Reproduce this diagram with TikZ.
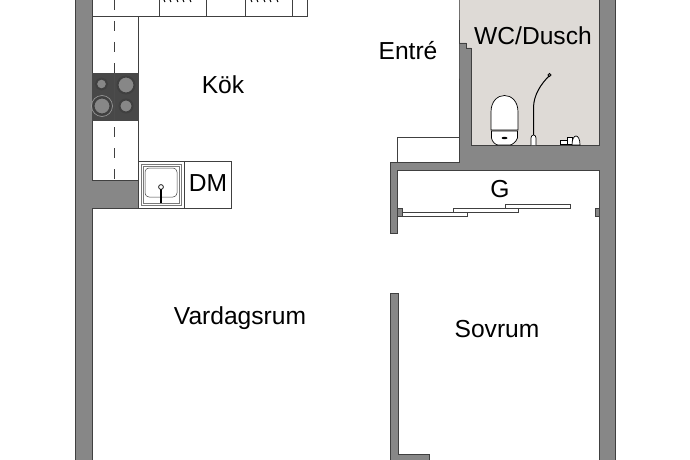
\documentclass[tikz,border=0pt]{standalone}
\usepackage{fontspec}
\setmainfont{Liberation Sans}
\definecolor{wallgray}{HTML}{878787}
\definecolor{wallline}{HTML}{404040}
\definecolor{stovegray}{HTML}{484848}
\definecolor{wetfloor}{HTML}{DEDAD6}
\tikzset{wall/.style={fill=wallgray,draw=wallline,line width=.9pt},
 unit/.style={draw=wallline,line width=.8pt,fill=white},
 door/.style={draw=wallline,line width=.7pt,fill=white},
 burner/.style={fill=wallgray,draw=black!75,line width=2pt},
 fixture/.style={draw=black,line width=.7pt,fill=white},
 hobdash/.style={draw=wallline,dash pattern=on 10pt off 11pt,line width=.8pt},
 roomlabel/.style={font=\fontsize{24.6}{24.6}\selectfont,inner sep=0pt},
 }
\begin{document}
\begin{tikzpicture}[x=1pt,y=-1pt]
        \useasboundingbox (0,0) rectangle (690,460);
        \fill[wetfloor] (459,0) rectangle (599,145);
        \draw[wall] (75,-3) -- (92,-3) -- (92,180) -- (138,180) -- (138,208) -- (92,208)
            -- (92,463) -- (75,463) -- cycle;
        \draw[wall] (459,-3) -- (459,43) -- (466,43) -- (466,48) -- (471,48) -- (471,145)
            -- (599,145) -- (599,-3) -- (615,-3) -- (615,463) -- (599,463) -- (599,170)
            -- (397,170) -- (397,233) -- (390,233) -- (390,162) -- (459,162) -- cycle;
        \draw[wall] (390,293) -- (398,293) -- (398,454) -- (429,454) -- (429,463) -- (390,463) -- cycle;
        \draw[wall] (397,208) rectangle (402,216);
        \draw[wall] (595.5,208) rectangle (599,216);
        \draw[unit] (92,-3) rectangle (159.5,16);
        \draw[unit] (159.5,-3) rectangle (206,16);
        \draw[unit] (206,-3) rectangle (245.5,16);
        \draw[unit] (245.5,-3) rectangle (292,16);
        \draw[unit] (292,-3) rectangle (307,16);
        \foreach \x in {164,170,177,183,190,251,257,264,270,277}
            \draw[black,line width=1pt] (\x,0) -- (\x+1,2);
        \draw[unit] (92,16) rectangle (138,180);
        \draw[hobdash] (114.7,0) -- (114.7,73);
        \draw[hobdash] (114.7,127) -- (114.7,180);
        \draw[fill=stovegray,draw=stovegray] (92,73) rectangle (138,120);
        \draw[black!70,line width=.5pt] (114.7,73) -- (114.7,120);
        \draw[burner] (101.5,84) circle (5.5);
        \draw[burner] (126,85) circle (8.5);
        \draw[burner] (102,106) circle (8.5);
        \draw[gray!70,line width=.5pt] (102,106) circle (10.5);
        \draw[burner] (126,106) circle (6.5);
        \draw[unit] (138,161) rectangle (184,208);
        \draw[unit] (184,161) rectangle (231,208);
        \draw[draw=wallline!70,line width=.8pt,fill=white] (141,164) rectangle (181,205);
        \draw[draw=wallline!70,line width=.8pt] (143,166) rectangle (179,203);
        \draw[draw=wallline,line width=.5pt,rounded corners=4pt] (145,168) rectangle (177,197);
        \draw[black,line width=1.2pt] (161,203) -- (161,189);
        \draw[fixture] (161,187) circle (2.4);
        \draw[draw=wallline,line width=.8pt] (397,162) -- (397,137) -- (459,137);
        \draw[door] (402,212) rectangle (467,216);
        \draw[door] (453,208) rectangle (518,212);
        \draw[door] (505,204) rectangle (570,208);
        \draw[fixture] (491,130) -- (491,112) .. controls (491,90) and (518,90) .. (518,112)
            -- (518,130) -- cycle;
        \draw[fixture] (491.5,131) -- (517.5,131) -- (517.5,138) .. controls (516,142) and (512,145) .. (510,145)
            -- (498,145) .. controls (496,145) and (492,142) .. (491.5,138) -- cycle;
        \fill[black] (504.5,138) ellipse (3 and 1.2);
        \draw[black,line width=1pt] (533.5,135) -- (533.5,108) .. controls (533.5,95) and (541,84) .. (549,76);
        \draw[fixture,fill=gray] (549.5,75) circle (1.6);
        \draw[fixture] (531,145) -- (531,138) .. controls (531,134) and (536,134) .. (536,138) -- (536,145);
        \draw[fixture] (560,140) rectangle (567,144.5);
        \draw[fixture] (567,137) rectangle (572,144.5);
        \draw[fixture] (572,145) .. controls (572,133) and (580,133) .. (580,145) -- cycle;
        \node[roomlabel] (kok) at (223,85) {Kök};
        \node[roomlabel] (dm) at (208,183) {DM};
        \node[roomlabel] (entre) at (408,51) {Entré};
        \node[roomlabel] (wc) at (533,36) {WC/Dusch};
        \node[roomlabel] (g) at (500,189) {G};
        \node[roomlabel] (vardagsrum) at (240,318) {Vardagsrum};
        \node[roomlabel] (sovrum) at (497,329) {Sovrum};
    \end{tikzpicture}
\end{document}
